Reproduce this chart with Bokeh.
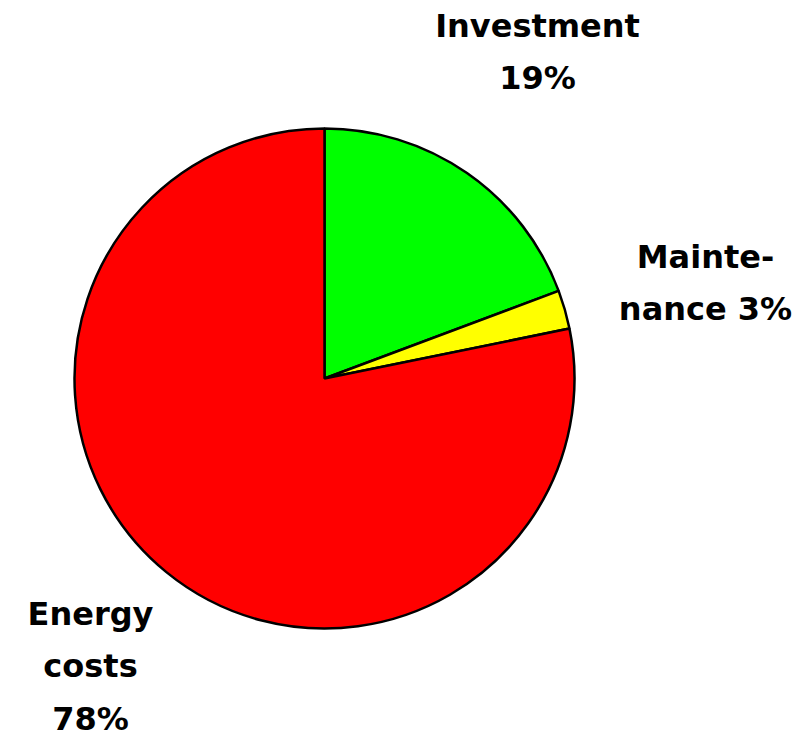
import math
from bokeh.plotting import figure
from bokeh.models import Range1d, ColumnDataSource
from bokeh.core.properties import value
from bokeh.embed import file_html
from bokeh.resources import INLINE

# ---- data ----
categories = ["Investment", "Maintenance", "Energy costs"]
shares = [19.3, 2.5, 78.2]            # percent
colors = ["#00FF00", "#FFFF00", "#FF0000"]
label_lines = [["Investment", "19%"], ["Mainte-", "nance 3%"], ["Energy", "costs", "78%"]]

# ---- layout (page pixel coordinates, y measured upward) ----
W, H = 796, 733
PAGE_H = 733
cx, cy, r = 324, PAGE_H - 378, 250
label_anchor = [(537, PAGE_H - 25), (705, PAGE_H - 256), (90, PAGE_H - 613)]
line_step = 52.5

p = figure(width=W, height=H, output_backend="svg", toolbar_location=None,
           x_range=Range1d(0, W), y_range=Range1d(PAGE_H - H, PAGE_H),
           min_border=0, outline_line_color=None)
p.axis.visible = False
p.grid.visible = False
p.background_fill_color = "white"
p.border_fill_color = "white"

total = sum(shares)
starts, ends = [], []
a = math.pi / 2
for s in shares:
    starts.append(a)
    a -= s / total * 2 * math.pi
    ends.append(a)

src = ColumnDataSource(dict(start=starts, end=ends, color=colors, cat=categories))
p.wedge(x=cx, y=cy, radius=r, start_angle="start", end_angle="end", direction="clock",
        fill_color="color", line_color="black", line_width=2.5, source=src)

xs, ys, ts = [], [], []
for (ax, ay), lines in zip(label_anchor, label_lines):
    for i, t in enumerate(lines):
        xs.append(ax)
        ys.append(ay - i * line_step)
        ts.append(t)

p.text(x=xs, y=ys, text=ts, text_font=value("DejaVu Sans"), text_font_style="bold",
       text_font_size="32px", text_align="center", text_baseline="alphabetic",
       text_color="black")

open("out.html", "w").write(file_html(p, INLINE))
